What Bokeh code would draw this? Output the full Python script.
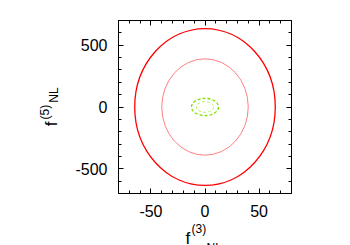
from bokeh.plotting import figure
from bokeh.models import LinearAxis, SingleIntervalTicker, Label, Range1d, CustomJSTickFormatter
from bokeh.embed import file_html
from bokeh.resources import INLINE

# ---- data (contour ellipses: centre, full width, full height) ----
ell_x = [0, 0, 0, 0]
ell_y = [0, 0, 0, 0]
ell_w = [130, 80, 25, 16]
ell_h = [1270, 780, 140, 86]
ell_color = ["#ff0000", "#ff8080", "#80e000", "#b0f060"]
ell_width = [1.3, 1.0, 1.3, 0.9]
ell_dash = ["solid", "solid", "3 2", "3 2"]

x_lim = (-80, 80)
y_lim = (-700, 700)
x_major = 50
y_major = 500
x_ticks = [-50, 0, 50]
y_ticks = [-500, 0, 500]

FONT = "Liberation Sans"

# ---- layout geometry (pixels) ----
W, H = 350, 245
BOX_L, BOX_R, BOX_T, BOX_B = 118, 291, 20, 193
sx_per = (BOX_R - BOX_L) / (x_lim[1] - x_lim[0])
sy_per = (BOX_B - BOX_T) / (y_lim[1] - y_lim[0])
x0 = x_lim[0] - BOX_L / sx_per
y0 = y_lim[0] - (H - BOX_B) / sy_per
xr = Range1d(x0, x_lim[1] + (W - BOX_R) / sx_per)
yr = Range1d(y0, y_lim[1] + BOX_T / sy_per)

p = figure(width=W, height=H, output_backend="svg", toolbar_location=None,
           x_range=xr, y_range=yr, min_border=0, min_border_left=0,
           min_border_right=0, min_border_top=0, min_border_bottom=0)
p.xgrid.visible = False
p.ygrid.visible = False
p.outline_line_color = None
p.background_fill_color = "white"
p.border_fill_color = "white"

for i in range(len(ell_w)):
    p.ellipse(x=[ell_x[i]], y=[ell_y[i]], width=[ell_w[i]], height=[ell_h[i]],
              fill_color=None, line_color=ell_color[i], line_width=ell_width[i],
              line_dash=ell_dash[i])

def style(ax, labels=True):
    ax.axis_line_color = "black"
    ax.axis_line_width = 1
    ax.major_tick_line_color = "black"
    ax.minor_tick_line_color = "black"
    ax.major_tick_in = 5
    ax.major_tick_out = 0
    ax.minor_tick_in = 3
    ax.minor_tick_out = 0
    if labels:
        ax.major_label_text_font = FONT
        ax.major_label_text_font_size = "16px"
        ax.major_label_text_color = "black"
        ax.major_label_standoff = 11
    else:
        ax.formatter = CustomJSTickFormatter(code="return ''")
        ax.major_label_standoff = 0

bx = p.xaxis[0]
by = p.yaxis[0]
bx.ticker = SingleIntervalTicker(interval=x_major, num_minor_ticks=5)
by.ticker = SingleIntervalTicker(interval=y_major, num_minor_ticks=5)
style(bx)
style(by)
bx.major_label_overrides = {t: str(t) for t in x_ticks}
by.major_label_overrides = {t: str(t) for t in y_ticks}
bx.bounds = x_lim
by.bounds = y_lim
bx.fixed_location = y_lim[0]
by.fixed_location = x_lim[0]

top = LinearAxis(ticker=SingleIntervalTicker(interval=x_major, num_minor_ticks=5),
                 bounds=x_lim, fixed_location=y_lim[1])
right = LinearAxis(ticker=SingleIntervalTicker(interval=y_major, num_minor_ticks=5),
                   bounds=y_lim, fixed_location=x_lim[1])
style(top, labels=False)
style(right, labels=False)
p.add_layout(top, "above")
p.add_layout(right, "right")

# ---- x title built from pieces (superscript / subscript) ----
def lab(x, y, t, size):
    p.add_layout(Label(x=x, y=y, x_units="screen", y_units="screen", text=t,
                       text_font=FONT, text_font_size=size, text_color="black",
                       text_align="left", text_baseline="alphabetic"))

lab(185, H - 238, "f", "17px")
lab(191, H - 228.5, "(3)", "12px")
lab(206, H - 247, "NL", "12px")

# ---- rotated y title: each piece centred on its own pixel centre ----
y_title = ["f", "(5)", "NL"]
y_title_cx = [51, 44.3, 53.8]
y_title_cy = [123.3, 111.7, 94.6]
y_title_size = ["17px", "12px", "12px"]

for t, cx, cy, s in zip(y_title, y_title_cx, y_title_cy, y_title_size):
    p.add_layout(Label(x=cx, y=H - cy, x_units="screen", y_units="screen",
                       text=t, angle=90, angle_units="deg", text_font=FONT,
                       text_font_size=s, text_color="black",
                       text_align="center", text_baseline="middle"))

open("out.html", "w").write(file_html(p, INLINE))
